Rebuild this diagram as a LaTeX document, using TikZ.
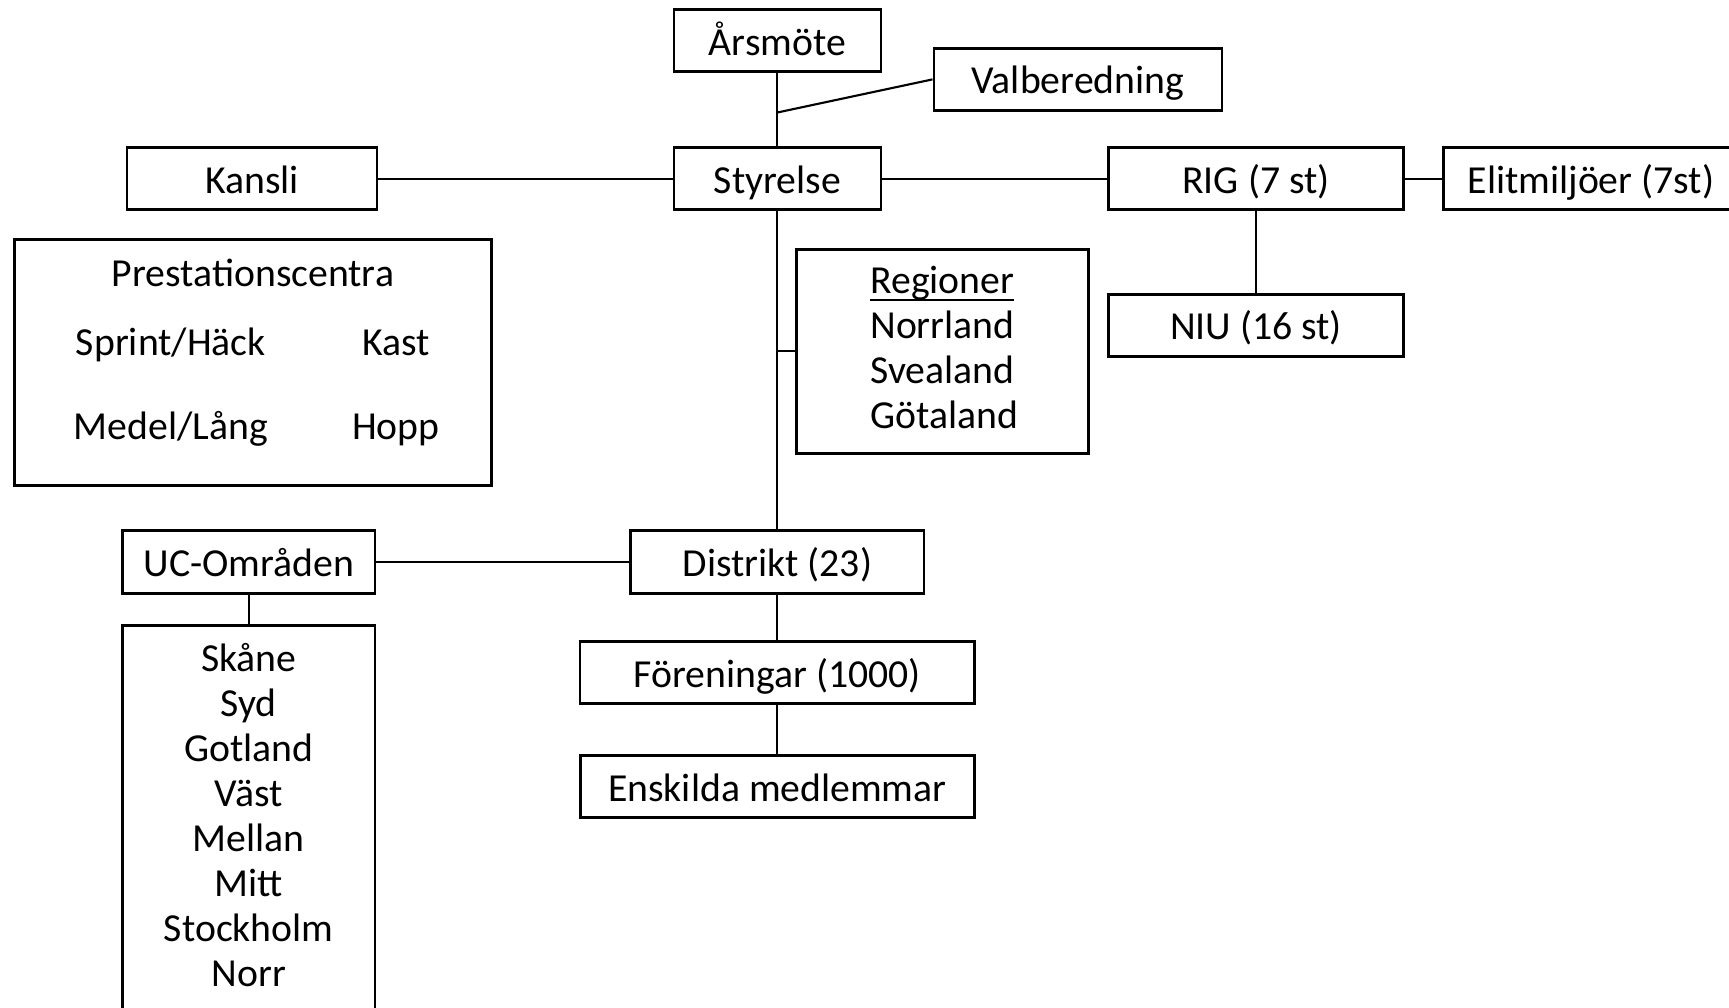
\documentclass[tikz,border=0pt]{standalone}
\usepackage{fontspec}
\setmainfont{Carlito}
\newcommand{\regul}[1]{\setbox0\hbox{#1}\rlap{\rule[-0.18em]{\wd0}{0.045em}}\box0}
\begin{document}
\begin{tikzpicture}[every node/.style={font=\fontsize{11.3}{12.8}\selectfont},
  box/.style={draw, line width=0.8pt, minimum height=0.62cm, inner sep=0pt},
  txt/.style={text height=0.33cm, text depth=0.04cm},
  link/.style={line width=0.6pt}]
  \useasboundingbox (0,0) rectangle (17.29,-10.08);
  \node[box, txt, minimum width=2.07cm] (styr) at (7.774,-1.786) {Styrelse};
  \node[box, txt, minimum width=2.07cm, above of=styr, node distance=1.378cm] (ars) {Årsmöte};
  \coordinate[below of=ars, node distance=0.717cm] (valj);
  \node[box, txt, minimum width=2.88cm] (valb) at (10.779,-0.794) {Valberedning};
  \node[box, txt, minimum width=2.5cm, left of=styr, node distance=5.254cm] (kansli) {Kansli};
  \node[box, txt, minimum width=2.955cm, right of=styr, node distance=4.786cm] (rig) {RIG (7 st)};
  \node[box, txt, minimum width=2.955cm, right of=rig, node distance=3.35cm] (elit) {Elitmiljöer (7st)};
  \node[box, txt, minimum width=2.955cm, below of=rig, node distance=1.467cm] (niu) {NIU (16 st)};
  \node[box, minimum width=4.775cm, minimum height=2.459cm] (prest) at (2.53,-3.6225) {};
  \node[txt, above of=prest, node distance=0.905cm] (ptitle) {Prestationscentra};
  \node[txt] (sprint) at (1.709,-3.408) {Sprint/Häck};
  \node[txt, right of=sprint, node distance=2.25cm] (kast) {Kast};
  \node[txt, below of=sprint, node distance=0.838cm] (medel) {Medel/Lång};
  \node[txt, right of=medel, node distance=2.25cm] (hopp) {Hopp};
  \node[box, minimum width=2.923cm, minimum height=2.04cm, align=left, text depth=0.07cm,
    inner xsep=0.02cm] (reg) at (9.4225,-3.512)
    {\hspace{0.04cm}\regul{Regioner}\\\hspace{0.04cm}Norrland\\\hspace{0.04cm}Svealand\\\hspace{0.04cm}Götaland};
  \coordinate (regj) at (reg.west -| styr);
  \node[box, txt, minimum width=2.933cm, minimum height=0.63cm] (distr) at (7.774,-5.618) {Distrikt (23)};
  \node[box, txt, minimum width=2.525cm, minimum height=0.63cm, left of=distr, node distance=5.287cm] (uc) {UC-Områden};
  \node[box, minimum width=2.525cm, minimum height=4.15cm, below of=uc, node distance=2.708cm] (uclist) {};
  \node[align=center, below of=uc, node distance=2.531cm] (ucnames)
    {Skåne\\Syd\\Gotland\\Väst\\Mellan\\Mitt\\Stockholm\\Norr};
  \node[box, txt, minimum width=3.948cm, below of=distr, node distance=1.108cm] (foren) {Föreningar (1000)};
  \node[box, txt, minimum width=3.937cm, below of=foren, node distance=1.142cm] (ensk) {Enskilda medlemmar};
  \draw[link] (ars) -- (styr);
  \draw[link] (valj) -- (valb.west);
  \draw[link] (kansli) -- (styr);
  \draw[link] (styr) -- (rig);
  \draw[link] (rig) -- (elit);
  \draw[link] (rig) -- (niu);
  \draw[link] (styr) -- (distr);
  \draw[link] (regj) -- (reg.west);
  \draw[link] (uc) -- (distr);
  \draw[link] (uc) -- (uclist);
  \draw[link] (distr) -- (foren);
  \draw[link] (foren) -- (ensk);
\end{tikzpicture}
\end{document}
